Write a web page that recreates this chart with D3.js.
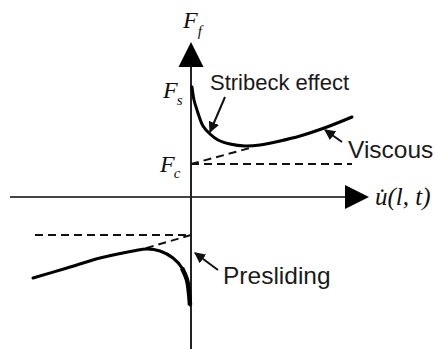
<!DOCTYPE html>
<html>
<head>
<meta charset="utf-8">
<script src="https://cdn.jsdelivr.net/npm/d3@7"></script>
<style>
  html, body { margin: 0; padding: 0; background: #fff; }
  svg { display: block; }
  .math { font-family: "Liberation Serif", "DejaVu Serif", serif; font-style: italic; fill: #111; }
  .note { font-family: "Liberation Sans", Arial, sans-serif; fill: #1a1a1a; }
</style>
</head>
<body>
<svg id="chart" width="436" height="349"></svg>
<script>
// Friction force vs. sliding velocity (schematic), in velocity / force units.
const slidingCurve = [
  [0.05, 5.5], [0.15, 4.85], [0.3, 4.35], [0.6, 3.55], [0.95, 3.15],
  [1.35, 2.85], [1.95, 2.65], [2.7, 2.55], [3.45, 2.6], [4.45, 2.8],
  [5.45, 3.05], [6.8, 3.5], [8.05, 4.0]
];
const preslidingCurve = [
  [-7.9, -4.05], [-6.2, -3.55], [-4.55, -3.05], [-2.9, -2.7], [-2.2, -2.6],
  [-1.55, -2.7], [-0.9, -3.05], [-0.45, -3.55], [-0.2, -4.15], [-0.1, -4.8],
  [-0.05, -5.4]
];
const coulombLine = [[0, 1.65], [8.05, 1.65]];
const viscousLine = [[0, 1.65], [2.95, 2.45]];
const coulombLineNeg = [[-7.8, -1.9], [0, -1.9]];
const viscousLineNeg = [[0, -1.9], [-2.4, -2.6]];

// Pointer annotations: text, size, label anchor, pointer start, pointer tip
const notes = [
  { text: "Stribeck effect", size: 22, at: [0.95, 5.35], from: [1.7, 5.0], to: [0.95, 3.25] },
  { text: "Viscous", size: 24.5, at: [7.85, 1.95], from: [7.55, 2.75], to: [6.7, 3.35] },
  { text: "Presliding", size: 24.5, at: [1.6, -4.35], from: [1.35, -3.65], to: [0.2, -2.8] }
];
const xAxisExtent = [-9.05, 8.9];
const yAxisExtent = [-7.7, 7.75];

const svg = d3.select("#chart");
const x = d3.scaleLinear().domain([-9, 9]).range([11, 371]);
const y = d3.scaleLinear().domain([-8, 8]).range([357, 37]);
const line = d3.line().x(d => x(d[0])).y(d => y(d[1])).curve(d3.curveCatmullRom.alpha(0.5));
const straight = d3.line().x(d => x(d[0])).y(d => y(d[1]));

const defs = svg.append("defs");
defs.append("marker")
  .attr("id", "ptr").attr("viewBox", "0 0 10 10").attr("refX", 9).attr("refY", 5)
  .attr("markerWidth", 5.5).attr("markerHeight", 5.5).attr("markerUnits", "strokeWidth")
  .attr("orient", "auto")
  .append("path").attr("d", "M0,0 L10,5 L0,10 Z").attr("fill", "#111");

// Axes
const ax = svg.append("g").attr("stroke", "#222").attr("stroke-width", 2);
ax.append("line")
  .attr("x1", x(xAxisExtent[0])).attr("x2", x(xAxisExtent[1]) - 20)
  .attr("y1", y(0)).attr("y2", y(0)).attr("stroke", "#444");
ax.append("line")
  .attr("x1", x(0)).attr("x2", x(0))
  .attr("y1", y(yAxisExtent[0]) + 20).attr("y2", y(yAxisExtent[1]) + 20);
svg.append("path")
  .attr("d", `M${x(xAxisExtent[1])},${y(0)} L${x(xAxisExtent[1]) - 24},${y(0) - 12} L${x(xAxisExtent[1]) - 24},${y(0) + 12} Z`)
  .attr("fill", "#000");
svg.append("path")
  .attr("d", `M${x(0)},${y(yAxisExtent[1])} L${x(0) - 12.5},${y(yAxisExtent[1]) + 25} L${x(0) + 12.5},${y(yAxisExtent[1]) + 25} Z`)
  .attr("fill", "#000");

// Dashed reference lines
const dashed = svg.append("g").attr("fill", "none").attr("stroke", "#111")
  .attr("stroke-width", 2).attr("stroke-dasharray", "8,5");
[coulombLine, viscousLine, coulombLineNeg, viscousLineNeg].forEach(seg =>
  dashed.append("path").attr("d", straight(seg)));

// Friction curves
svg.append("path").attr("d", line(slidingCurve))
  .attr("fill", "none").attr("stroke", "#000").attr("stroke-width", 3).attr("stroke-linecap", "round");
svg.append("path").attr("d", line(preslidingCurve))
  .attr("fill", "none").attr("stroke", "#000").attr("stroke-width", 3).attr("stroke-linecap", "round");
svg.append("path").attr("d", line(preslidingCurve.slice(-4)))
  .attr("fill", "none").attr("stroke", "#000").attr("stroke-width", 4.5).attr("stroke-linecap", "butt");

// Annotations
notes.forEach(n => {
  svg.append("line")
    .attr("x1", x(n.from[0])).attr("y1", y(n.from[1]))
    .attr("x2", x(n.to[0])).attr("y2", y(n.to[1]))
    .attr("stroke", "#111").attr("stroke-width", 2).attr("marker-end", "url(#ptr)");
  svg.append("text").attr("class", "note")
    .attr("x", x(n.at[0])).attr("y", y(n.at[1]))
    .attr("font-size", n.size).text(n.text);
});

// Math labels
function sym(px, py, main, sub, dx, dy) {
  const t = svg.append("text").attr("class", "math").attr("x", px).attr("y", py).attr("font-size", 24);
  t.append("tspan").text(main);
  t.append("tspan").attr("dx", dx).attr("dy", dy).attr("font-size", 15).text(sub);
}
sym(x(0) - 8, y(8.45), "F", "f", 0, 8);
sym(x(0) - 28, y(4.95), "F", "s", -1, 7);
sym(x(0) - 31, y(1.25), "F", "c", -1, 6);
svg.append("text").attr("class", "math")
  .attr("x", x(xAxisExtent[1]) + 6).attr("y", y(0) + 8)
  .attr("font-size", 25).text("u\u0307(l, t)");
</script>
</body>
</html>
